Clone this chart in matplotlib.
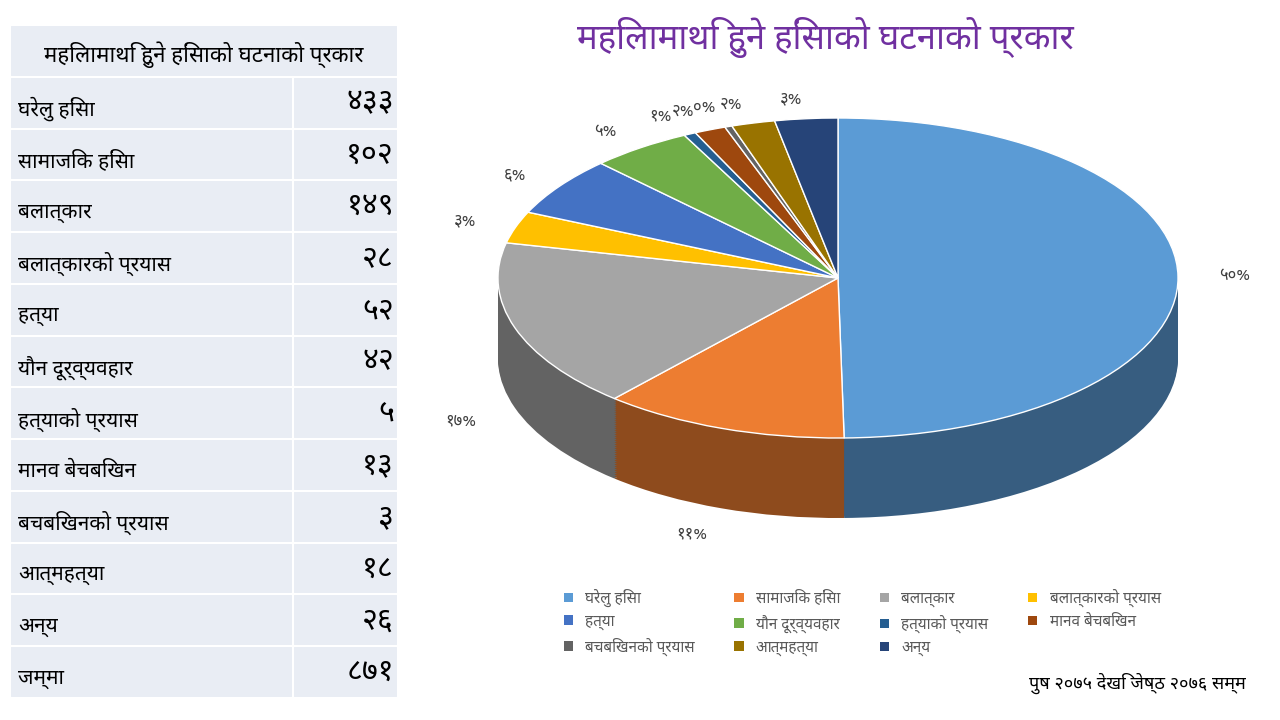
import matplotlib
matplotlib.use("Agg")
import matplotlib.pyplot as plt
from matplotlib.patches import Rectangle
import matplotlib.colors as mc
from matplotlib import font_manager as fm
import numpy as np

avail = {f.name for f in fm.fontManager.ttflist}
fams = [f for f in ['Noto Sans Devanagari', 'Lohit Devanagari', 'Mukta', 'Noto Sans', 'DejaVu Sans'] if f in avail]
plt.rcParams['font.family'] = fams

title = "महिलामाथि हुने हिंसाको घटनाको प्रकार"
categories = ["घरेलु हिंसा", "सामाजिक हिंसा", "बलात्कार", "बलात्कारको प्रयास", "हत्या",
              "यौन दूर्व्यवहार", "हत्याको प्रयास", "मानव बेचबिखन", "बचबिखनको प्रयास",
              "आत्महत्या", "अन्य"]
values = [433, 102, 149, 28, 52, 42, 5, 13, 3, 18, 26]
value_labels = ["४३३", "१०२", "१४९", "२८", "५२", "४२", "५", "१३", "३", "१८", "२६"]
total_label = "जम्मा"
total_value = "८७१"
pct_labels = ["५०%", "११%", "१७%", "३%", "६%", "५%", "१%", "२%", "०%", "२%", "३%"]
footer = "पुष २०७५ देखि जेष्ठ २०७६ सम्म"
colors = ["#5B9BD5", "#ED7D31", "#A5A5A5", "#FFC000", "#4472C4", "#70AD47",
          "#255E91", "#9E480E", "#636363", "#997300", "#264478"]

fig = plt.figure(figsize=(12.8, 7.2), dpi=100)
fig.patch.set_facecolor("white")

bg = fig.add_axes([0, 0, 1, 1])
bg.set_xlim(0, 1280); bg.set_ylim(720, 0); bg.axis("off")
top, bottom = 25, 698
nrows = 13
rh = (bottom - top) / nrows
for i in range(nrows):
    y0 = top + i * rh
    if i == 0:
        bg.add_patch(Rectangle((10, y0), 388, rh, fc="#E9EDF4", ec="white", lw=1.5))
        bg.text(204, y0 + rh / 2 + 4, title, ha="center", va="center", fontsize=16, fontweight="bold")
        continue
    bg.add_patch(Rectangle((10, y0), 283, rh, fc="#E9EDF4", ec="white", lw=1.5))
    bg.add_patch(Rectangle((293, y0), 105, rh, fc="#E9EDF4", ec="white", lw=1.5))
    if i <= len(categories):
        lab, val = categories[i - 1], value_labels[i - 1]
    else:
        lab, val = total_label, total_value
    bg.text(18, y0 + rh * 0.62, lab, ha="left", va="center", fontsize=15)
    bg.text(394, y0 + rh * 0.5, val, ha="right", va="center", fontsize=22)

bg.text(825, 38, title, ha="center", va="center", fontsize=25, fontweight="bold", color="#7030A0")
bg.text(1246, 683, footer, ha="right", va="center", fontsize=13)

ax = fig.add_axes([498 / 1280, (720 - 518) / 720, 680 / 1280, 400 / 720])
depth = 0.5
dark = [tuple(c * 0.6 for c in mc.to_rgb(col)) for col in colors]
for d in np.linspace(depth, 0.01, 40):
    ax.pie(values, colors=dark, startangle=90, counterclock=False, center=(0, -d),
           radius=1, wedgeprops=dict(linewidth=0))
wedges, texts = ax.pie(values, colors=colors, startangle=90, counterclock=False,
                       labels=pct_labels, labeldistance=1.12,
                       wedgeprops=dict(edgecolor="white", linewidth=1),
                       textprops=dict(fontsize=12, color="#404040"))
for t in texts:
    x, y = t.get_position()
    if y < 0:
        t.set_position((x, y - depth - 0.05))
ax.set_aspect("auto")
ax.set_xlim(-1, 1); ax.set_ylim(-1 - depth, 1)
ax.axis("off")

handles = [Rectangle((0, 0), 1, 1, fc=c) for c in colors]
order = [0, 4, 8, 1, 5, 9, 2, 6, 10, 3, 7]
fig.legend([handles[i] for i in order], [categories[i] for i in order], loc="upper left",
           bbox_to_anchor=(550 / 1280, 1 - 575 / 720),
           ncol=4, frameon=False, fontsize=11, handlelength=0.6, handleheight=0.6,
           columnspacing=2.6, labelcolor="#595959")

fig.savefig("out.png", dpi=100)
